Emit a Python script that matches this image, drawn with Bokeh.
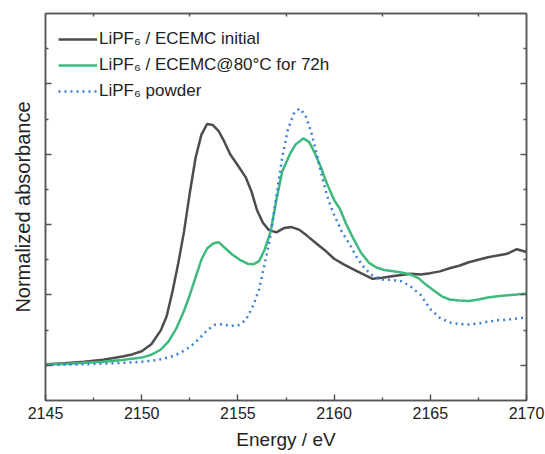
from bokeh.plotting import figure
from bokeh.models import LinearAxis, FixedTicker, Range1d, CustomJSTickFormatter
from bokeh.embed import file_html
from bokeh.resources import INLINE

# ---- data ----
energy_initial = [2145.0, 2146.0, 2147.0, 2148.0, 2149.0, 2149.5, 2150.0, 2150.5, 2151.0, 2151.3,
                  2151.6, 2151.9, 2152.2, 2152.5, 2152.8, 2153.1, 2153.4, 2153.7, 2154.0, 2154.3,
                  2154.6, 2155.0, 2155.4, 2155.7, 2156.0, 2156.3, 2156.6, 2157.0, 2157.4, 2157.8,
                  2158.2, 2158.6, 2159.0, 2159.5, 2160.0, 2160.5, 2161.0, 2161.5, 2162.0, 2162.5,
                  2163.0, 2163.5, 2164.0, 2164.5, 2165.0, 2165.5, 2166.0, 2166.5, 2167.0, 2167.5,
                  2168.0, 2168.5, 2169.0, 2169.5, 2170.0]
abs_initial = [0.003, 0.006, 0.010, 0.016, 0.025, 0.031, 0.040, 0.060, 0.100, 0.140,
               0.210, 0.290, 0.380, 0.490, 0.590, 0.655, 0.686, 0.683, 0.666, 0.635,
               0.600, 0.568, 0.535, 0.495, 0.440, 0.405, 0.385, 0.378, 0.390, 0.393,
               0.385, 0.368, 0.350, 0.328, 0.303, 0.287, 0.273, 0.259, 0.246, 0.249,
               0.253, 0.257, 0.260, 0.258, 0.262, 0.267, 0.276, 0.283, 0.293, 0.300,
               0.307, 0.312, 0.317, 0.330, 0.322]

energy_aged = [2145.0, 2146.0, 2147.0, 2148.0, 2149.0, 2149.5, 2150.0, 2150.5, 2151.0, 2151.4,
               2151.8, 2152.2, 2152.5, 2152.8, 2153.1, 2153.4, 2153.7, 2154.0, 2154.3, 2154.7,
               2155.1, 2155.5, 2155.8, 2156.1, 2156.4, 2156.7, 2157.0, 2157.3, 2157.7, 2158.0,
               2158.4, 2158.7, 2159.0, 2159.3, 2159.6, 2160.0, 2160.3, 2160.6, 2161.0, 2161.4,
               2161.8, 2162.2, 2162.6, 2163.0, 2163.5, 2164.0, 2164.4, 2164.8, 2165.2, 2165.6,
               2166.0, 2166.5, 2167.0, 2167.5, 2168.0, 2168.5, 2169.0, 2169.5, 2170.0]
abs_aged = [0.002, 0.004, 0.007, 0.010, 0.015, 0.019, 0.022, 0.030, 0.045, 0.068,
            0.105, 0.155, 0.200, 0.250, 0.300, 0.332, 0.346, 0.350, 0.335, 0.315,
            0.300, 0.289, 0.287, 0.296, 0.330, 0.380, 0.470, 0.550, 0.600, 0.628,
            0.645, 0.635, 0.603, 0.565, 0.520, 0.470, 0.445, 0.405, 0.360, 0.320,
            0.292, 0.278, 0.271, 0.268, 0.264, 0.258, 0.247, 0.228, 0.212, 0.196,
            0.187, 0.184, 0.183, 0.187, 0.193, 0.196, 0.199, 0.201, 0.204]

energy_powder = [2145.0, 2146.0, 2147.0, 2148.0, 2149.0, 2150.0, 2150.5, 2151.0, 2151.5, 2152.0,
                 2152.5, 2153.0, 2153.4, 2153.8, 2154.2, 2154.6, 2155.0, 2155.4, 2155.8, 2156.1,
                 2156.4, 2156.7, 2157.0, 2157.3, 2157.6, 2157.9, 2158.2, 2158.5, 2158.8, 2159.1,
                 2159.4, 2159.7, 2160.0, 2160.4, 2160.8, 2161.2, 2161.6, 2162.0, 2162.5, 2163.0,
                 2163.5, 2164.0, 2164.5, 2165.0, 2165.5, 2166.0, 2166.5, 2167.0, 2167.5, 2168.0,
                 2168.5, 2169.0, 2169.5, 2170.0]
abs_powder = [0.000, 0.002, 0.003, 0.005, 0.007, 0.010, 0.013, 0.017, 0.024, 0.035,
              0.052, 0.076, 0.100, 0.115, 0.117, 0.112, 0.113, 0.128, 0.170, 0.215,
              0.290, 0.370, 0.480, 0.590, 0.670, 0.715, 0.730, 0.712, 0.665, 0.600,
              0.530, 0.470, 0.428, 0.380, 0.345, 0.305, 0.275, 0.255, 0.244, 0.243,
              0.239, 0.223, 0.200, 0.160, 0.135, 0.122, 0.117, 0.116, 0.119, 0.124,
              0.128, 0.130, 0.133, 0.136]

labels = ["LiPF\u2086 / ECEMC initial", "LiPF\u2086 / ECEMC@80\u00b0C for 72h", "LiPF\u2086 powder"]

x_major = [2145, 2150, 2155, 2160, 2165, 2170]
x_minor = [2147.5, 2152.5, 2157.5, 2162.5, 2167.5]
y_major = [0.0, 0.2, 0.4, 0.6, 0.8]
y_minor = [0.1, 0.3, 0.5, 0.7, 0.9]

FONT = "Liberation Sans"
AXC = "#555555"

p = figure(width=545, height=454, output_backend="svg", toolbar_location=None,
           x_range=Range1d(2145, 2170), y_range=Range1d(-0.1, 1.0),
           min_border_left=45, min_border_right=19, min_border_top=13, min_border_bottom=54)
p.grid.visible = False
p.outline_line_color = AXC
p.outline_line_width = 1.5
p.background_fill_color = "white"

p.line(energy_initial, abs_initial, line_color="#4d4d4d", line_width=2.5, legend_label=labels[0])
p.line(energy_aged, abs_aged, line_color="#3dba7c", line_width=2.5, legend_label=labels[1])
p.line(energy_powder, abs_powder, line_color="#3a80d2", line_width=2.5, line_dash="2 4",
       legend_label=labels[2])

blank = CustomJSTickFormatter(code="return ''")

# bottom axis
xa = p.xaxis[0]
xa.ticker = FixedTicker(ticks=x_major, minor_ticks=x_minor)
xa.axis_label = "Energy / eV"
xa.axis_label_text_font = FONT
xa.axis_label_text_font_size = "19px"
xa.axis_label_text_font_style = "normal"
xa.axis_label_text_color = "#222222"
xa.axis_label_standoff = 7
xa.major_label_text_font = FONT
xa.major_label_text_font_size = "16px"
xa.major_label_text_color = "#222222"
xa.major_label_standoff = 6

# left axis
ya = p.yaxis[0]
ya.ticker = FixedTicker(ticks=y_major, minor_ticks=y_minor)
ya.axis_label = "Normalized absorbance"
ya.axis_label_text_font = FONT
ya.axis_label_text_font_size = "20px"
ya.axis_label_text_font_style = "normal"
ya.axis_label_text_color = "#222222"
ya.axis_label_standoff = 12
ya.formatter = blank
ya.major_label_standoff = 0

for ax in (xa, ya):
    ax.axis_line_color = AXC
    ax.axis_line_width = 1.5
    ax.major_tick_line_color = AXC
    ax.minor_tick_line_color = AXC
    ax.major_tick_line_width = 1.5
    ax.minor_tick_line_width = 1.5
    ax.major_tick_in = 6
    ax.major_tick_out = 0
    ax.minor_tick_in = 3
    ax.minor_tick_out = 0

# top and right axes (ticks only)
top = LinearAxis(ticker=FixedTicker(ticks=x_minor, minor_ticks=[]), formatter=blank)
right = LinearAxis(ticker=FixedTicker(ticks=y_major, minor_ticks=y_minor), formatter=blank)
for ax, tin in ((top, 3), (right, 6)):
    ax.axis_line_color = AXC
    ax.axis_line_width = 1.5
    ax.major_tick_line_color = AXC
    ax.minor_tick_line_color = AXC
    ax.major_tick_line_width = 1.5
    ax.minor_tick_line_width = 1.5
    ax.major_tick_in = tin
    ax.major_tick_out = 0
    ax.minor_tick_in = 3
    ax.minor_tick_out = 0
    ax.major_label_standoff = 0
p.add_layout(top, "above")
p.add_layout(right, "right")

lg = p.legend[0]
lg.location = "top_left"
lg.margin = 13
lg.padding = 6
lg.spacing = 0
lg.glyph_width = 39
lg.glyph_height = 26
lg.label_standoff = 2
lg.label_text_font = FONT
lg.label_text_font_size = "17px"
lg.label_text_color = "#222222"
lg.border_line_color = None
lg.background_fill_alpha = 0

open("out.html", "w").write(file_html(p, INLINE))
